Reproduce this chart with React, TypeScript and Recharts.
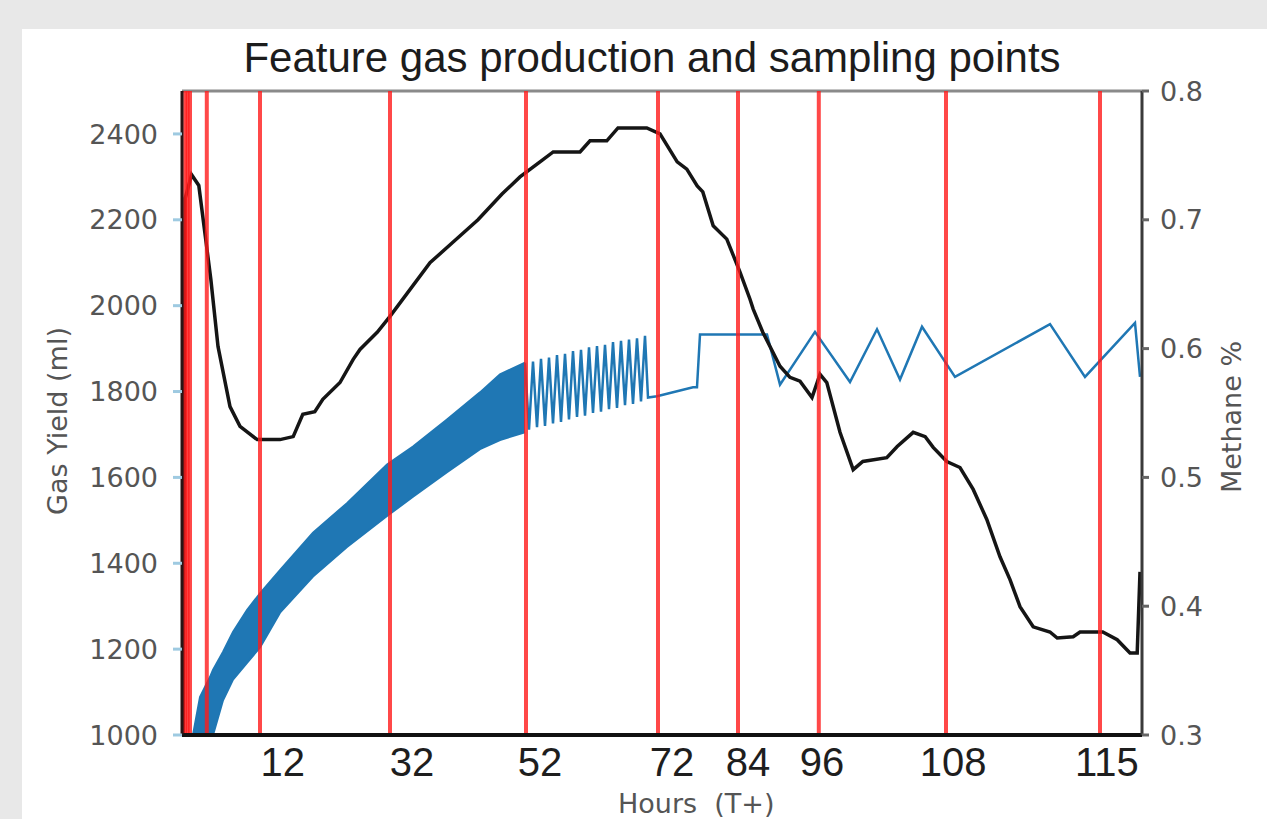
import React from "react";
import { ComposedChart, Line, Area, XAxis, YAxis, ReferenceLine } from "recharts";

// hours run linearly across the plot, 0..120
const gasHours = [
  0.15, 0.4, 1.2, 2.1, 3.6, 4.5, 6.0, 7.25, 9.4, 12.25, 13.9, 15.1, 16.6, 17.6, 19.75, 21.4, 22.25,
  24.4, 26, 31, 34, 37, 40, 42.25, 44.75, 46.4, 49.75, 51, 53.1, 54.5, 58.1, 59.75, 61.9, 63.1, 64.4,
  65.1, 66.4, 68.1, 69.75, 71, 71.4, 72.6, 74.75, 76, 77.25, 78.75, 79.75, 80.6, 82.25, 83.9, 85.1,
  88.1, 89.4, 91.4, 92.9, 93.9, 95.6, 97.25, 98.9, 100.6, 102.25, 103.5, 104.75, 106.4, 108.5, 109.4,
  111.4, 112.25, 115.1, 116.9, 118.5, 119.4, 119.75,
];
const gasYield = [
  1000, 2250, 2305, 2280, 2062, 1905, 1765, 1719, 1688, 1688, 1695, 1747, 1753, 1782, 1821, 1875, 1898,
  1938, 1975, 2100, 2150, 2200, 2260, 2300, 2335, 2358, 2358, 2384, 2384, 2414, 2414, 2400, 2335, 2318,
  2279, 2265, 2186, 2155, 2078, 2015, 1992, 1938, 1859, 1833, 1824, 1786, 1840, 1821, 1705, 1618, 1637,
  1646, 1672, 1705, 1695, 1670, 1637, 1623, 1572, 1502, 1415, 1362, 1299, 1252, 1240, 1226, 1229, 1240,
  1240, 1222, 1191, 1191, 1380,
];

// dense methane oscillation, drawn as a band (low / high edge)
const bandHours = [
  1.375, 2.25, 3.5, 3.875, 5.125, 6.375, 8.125, 9.75, 12.25, 16.375, 20.625, 25.625, 28.875, 33.125,
  37.25, 39.75, 42.875,
];
const bandLow = [
  0.3, 0.3, 0.3, 0.3, 0.327, 0.343, 0.356, 0.368, 0.395, 0.423, 0.446, 0.47, 0.485, 0.504, 0.522,
  0.529, 0.535,
];
const bandHigh = [
  0.3, 0.3295, 0.345, 0.3505, 0.3645, 0.38, 0.397, 0.41, 0.428, 0.457, 0.48, 0.51, 0.524, 0.545, 0.566,
  0.58, 0.589,
];

const methaneHours = [
  42.875, 43.375, 43.875, 44.375, 44.875, 45.375, 45.875, 46.375, 46.875, 47.375, 47.875, 48.375,
  48.875, 49.375, 49.875, 50.375, 50.875, 51.375, 51.875, 52.375, 52.875, 53.375, 53.875, 54.375,
  54.875, 55.375, 55.875, 56.375, 56.875, 57.375, 57.875, 58.25, 59.375, 63.875, 64.375, 64.75,
  73.125, 74.75, 79.125, 83.5, 86.875, 89.75, 92.5, 96.625, 108.5, 112.875, 119.125, 119.75,
];
const methaneShare = [
  0.589, 0.537, 0.59, 0.539, 0.592, 0.54, 0.593, 0.542, 0.595, 0.543, 0.596, 0.545, 0.598, 0.547,
  0.599, 0.548, 0.601, 0.55, 0.602, 0.551, 0.603, 0.553, 0.605, 0.554, 0.606, 0.556, 0.607, 0.557,
  0.608, 0.559, 0.61, 0.562, 0.563, 0.57, 0.57, 0.611, 0.611, 0.572, 0.613, 0.574, 0.615, 0.576,
  0.617, 0.578, 0.619, 0.578, 0.62, 0.578,
];

const samplingHours = [0.4, 0.7, 1.0, 3.1, 9.75, 26, 43, 59.5, 69.5, 79.6, 95.5, 114.75];

const xTickHours = [12.6, 28.75, 44.75, 61.25, 70.75, 80, 96.4, 115.6];
const xTickLabels = ["12", "32", "52", "72", "84", "96", "108", "115"];
const yieldTicks = [1000, 1200, 1400, 1600, 1800, 2000, 2200, 2400];
const methaneTicks = [0.3, 0.4, 0.5, 0.6, 0.7, 0.8];

const gasData = gasHours.map((t, i) => ({ t, ml: gasYield[i] }));
const bandData = bandHours.map((t, i) => ({ t, range: [bandLow[i], bandHigh[i]] }));
const methaneData = methaneHours.map((t, i) => ({ t, ch4: methaneShare[i] }));

const BLUE = "#1f77b4";
const GREY_TEXT = "#555";

export default function App() {
  return (
    <div style={{ position: "absolute", left: 0, top: 0, width: 1267, height: 819, overflow: "hidden", background: "#e8e8e8" }}>
      <div style={{ position: "absolute", left: 22, top: 29, right: 0, bottom: 0, background: "#fff" }} />
      <div style={{ position: "absolute", left: 0, top: 0 }}>
        <ComposedChart width={1267} height={819} margin={{ top: 91, right: 45, bottom: 24, left: 82 }}>
          <XAxis
            type="number"
            dataKey="t"
            domain={[0, 120]}
            allowDataOverflow
            ticks={xTickHours}
            tickFormatter={(v, i) => xTickLabels[i]}
            interval={0}
            height={60}
            tickLine={false}
            tickSize={0}
            tickMargin={13}
            axisLine={{ stroke: "#111", strokeWidth: 4 }}
            tick={{ fill: "#1e1e1e", fontSize: 40, fontFamily: "Liberation Sans" }}
          />
          <YAxis
            yAxisId="left"
            domain={[1000, 2500]}
            ticks={yieldTicks}
            allowDataOverflow
            width={100}
            tickSize={9}
            tickMargin={15}
            axisLine={{ stroke: "#2a1414", strokeWidth: 3 }}
            tickLine={{ stroke: "#9ecae1", strokeWidth: 3 }}
            tick={{ fill: GREY_TEXT, fontSize: 27, fontFamily: "DejaVu Sans" }}
          />
          <YAxis
            yAxisId="right"
            orientation="right"
            domain={[0.3, 0.8]}
            ticks={methaneTicks}
            allowDataOverflow
            width={80}
            tickSize={7}
            tickMargin={11}
            tickFormatter={(v) => v.toFixed(1)}
            axisLine={{ stroke: "#3a3a3a", strokeWidth: 3 }}
            tickLine={{ stroke: "#666", strokeWidth: 3 }}
            tick={{ fill: GREY_TEXT, fontSize: 27, fontFamily: "DejaVu Sans" }}
          />
          <ReferenceLine yAxisId="left" y={2500} stroke="#8a8a8a" strokeWidth={3} />
          <Area
            yAxisId="right"
            data={bandData}
            dataKey="range"
            type="linear"
            stroke={BLUE}
            strokeWidth={2}
            fill={BLUE}
            fillOpacity={1}
            dot={false}
            activeDot={false}
            isAnimationActive={false}
          />
          <Line
            yAxisId="right"
            data={methaneData}
            dataKey="ch4"
            type="linear"
            stroke={BLUE}
            strokeWidth={2.5}
            dot={false}
            activeDot={false}
            isAnimationActive={false}
          />
          <Line
            yAxisId="left"
            data={gasData}
            dataKey="ml"
            type="linear"
            stroke="#151515"
            strokeWidth={3.5}
            dot={false}
            activeDot={false}
            isAnimationActive={false}
          />
          {samplingHours.map((h) => (
            <ReferenceLine key={h} yAxisId="left" x={h} stroke="#ff1a1a" strokeOpacity={0.8} strokeWidth={4} />
          ))}
        </ComposedChart>
      </div>
      <svg width={1267} height={819} style={{ position: "absolute", left: 0, top: 0, pointerEvents: "none" }}>
        <text x={652} y={72} textAnchor="middle" fontFamily="Liberation Sans" fontSize={42} fill="#1c1c1c">
          Feature gas production and sampling points
        </text>
        <text transform="translate(67,421) rotate(-90)" textAnchor="middle" fontFamily="DejaVu Sans" fontSize={27} fill={GREY_TEXT}>
          Gas Yield (ml)
        </text>
        <text transform="translate(1241,417) rotate(-90)" textAnchor="middle" fontFamily="DejaVu Sans" fontSize={27} fill={GREY_TEXT}>
          Methane %
        </text>
        <text x={618} y={813} fontFamily="DejaVu Sans" fontSize={27} fill={GREY_TEXT} style={{ whiteSpace: "pre" }}>
          {"Hours  (T+)"}
        </text>
      </svg>
    </div>
  );
}
